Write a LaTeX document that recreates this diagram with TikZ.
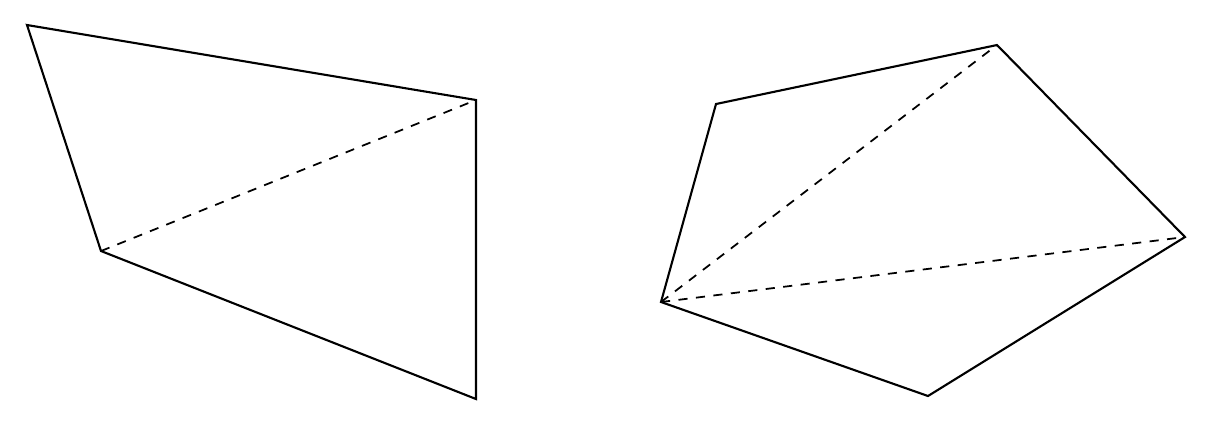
\documentclass[tikz,border=0pt]{standalone}
\usepackage{tikz}

\tikzset{
	edge/.style={line width=0.6pt, line join=miter},
	diag/.style={line width=0.5pt, dash pattern=on 2.6pt off 2.4pt}
}

\begin{document}
\begin{tikzpicture}[x=0.01cm, y=-0.01cm]
\useasboundingbox (0, 0) rectangle (1215, 420);

% quadrilateral
\coordinate (qa) at (27, 25);
\coordinate (qb) at (476, 100);
\coordinate (qc) at (476, 399);
\coordinate (qd) at (101, 251);
\draw[edge] (qa) -- (qb) -- (qc) -- (qd) -- cycle;
\draw[diag] (qd) -- (qb);

% pentagon
\coordinate (pa) at (716, 104);
\coordinate (pb) at (997, 45);
\coordinate (pc) at (1185, 237);
\coordinate (pd) at (928, 396);
\coordinate (pe) at (661, 302);
\draw[edge] (pa) -- (pb) -- (pc) -- (pd) -- (pe) -- cycle;
\draw[diag] (pe) -- (pb);
\draw[diag] (pe) -- (pc);

\end{tikzpicture}
\end{document}
